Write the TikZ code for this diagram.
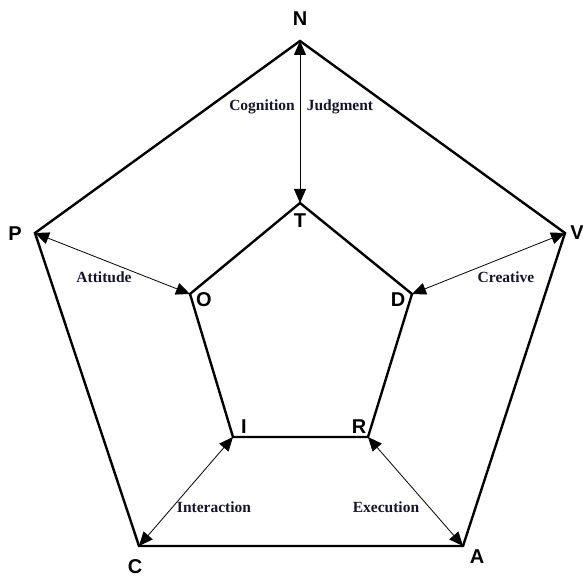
\documentclass[tikz,border=0pt]{standalone}
\usepackage{fontspec}
\setmainfont{Liberation Serif}
\newfontfamily\vsans{Liberation Sans}
\usetikzlibrary{arrows.meta}
\definecolor{lblcol}{RGB}{20,20,45}
\begin{document}
\begin{tikzpicture}[x=1pt,y=-1pt,
  poly/.style={line width=2.4pt,line join=miter},
  link/.style={line width=0.8pt,{Triangle[length=14pt,width=12pt]}-{Triangle[length=14pt,width=12pt]}},
  vlab/.style={font=\vsans\bfseries\fontsize{20}{20}\selectfont,inner sep=0pt},
  elab/.style={font=\bfseries\fontsize{15.5}{16}\selectfont,text=lblcol,inner sep=0pt}]
\useasboundingbox (0,0) rectangle (583,577);
% outer vertices
\coordinate (N) at (300,41);
\coordinate (V) at (565,233);
\coordinate (A) at (463,546);
\coordinate (C) at (139,546);
\coordinate (P) at (35,233);
% inner vertices
\coordinate (T) at (300,203);
\coordinate (D) at (412,294);
\coordinate (R) at (368,437);
\coordinate (I) at (233,437);
\coordinate (O) at (190,294);
\draw[poly] (N) -- (V) -- (A) -- (C) -- (P) -- cycle;
\draw[poly] (T) -- (D) -- (R) -- (I) -- (O) -- cycle;
\draw[link] (N) -- (T);
\draw[link] (P) -- (O);
\draw[link] (V) -- (D);
\draw[link] (C) -- (I);
\draw[link] (A) -- (R);
% vertex labels
\node[vlab] (lN) at (300,19) {N};
\node[vlab] (lT) at (300,221) {T};
\node[vlab] (lP) at (15,234) {P};
\node[vlab] (lO) at (204,300) {O};
\node[vlab] (lV) at (577,233) {V};
\node[vlab] (lD) at (398,300) {D};
\node[vlab] (lC) at (135,567) {C};
\node[vlab] (lA) at (477,557) {A};
\node[vlab] (lI) at (244,427) {I};
\node[vlab] (lR) at (359,427) {R};
% edge labels
\node[elab] (cog) at (262,107) {Cognition};
\node[elab] (jud) at (340,107) {Judgment};
\node[elab] (att) at (104,277) {Attitude};
\node[elab] (cre) at (506,277) {Creative};
\node[elab] (int) at (214,507) {Interaction};
\node[elab] (exe) at (386,507) {Execution};
\end{tikzpicture}
\end{document}
